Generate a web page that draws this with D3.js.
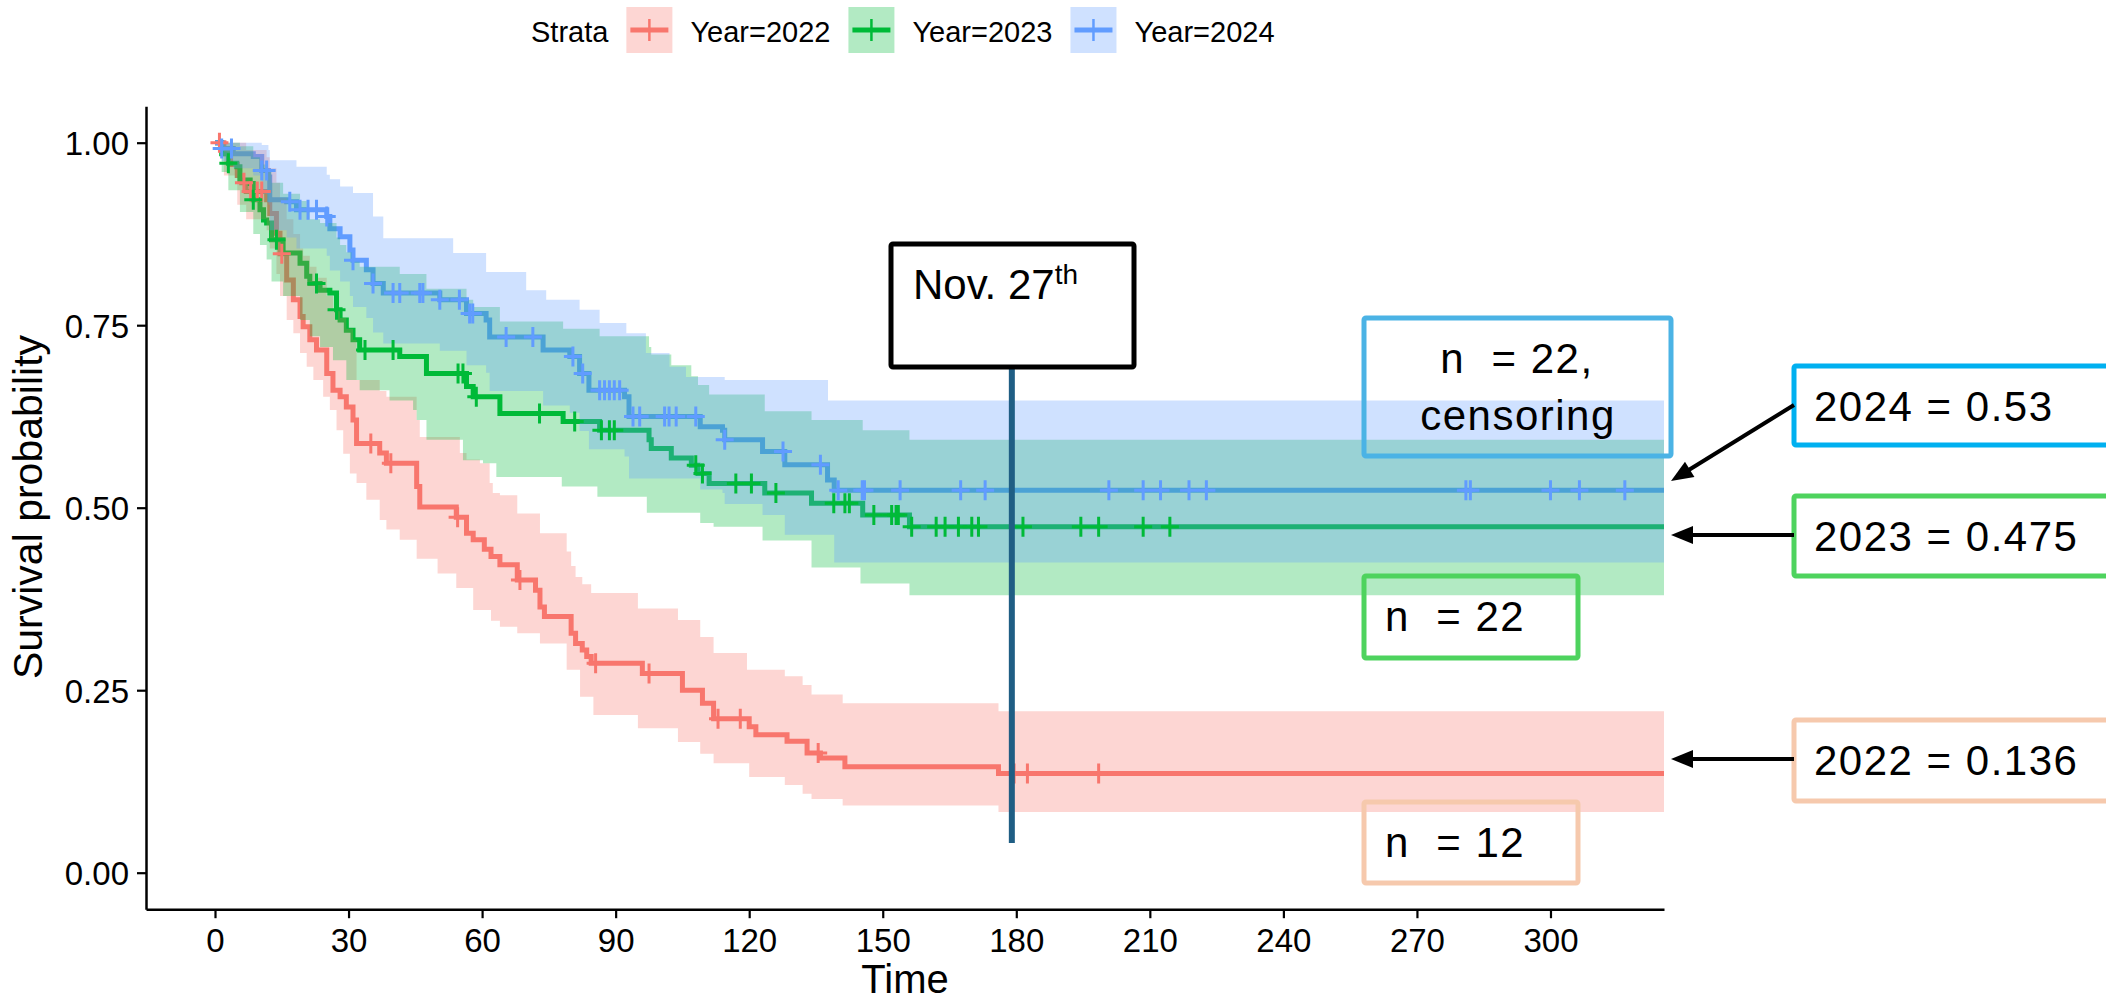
<!DOCTYPE html>
<html>
<head>
<meta charset="utf-8">
<script src="https://cdn.jsdelivr.net/npm/d3@7"></script>
<style>
  html, body { margin: 0; padding: 0; background: #fff; }
  svg { display: block; font-family: "Liberation Sans", Arial, sans-serif; }
</style>
</head>
<body>
<div id="chart"></div>
<script>
// ---- values ----
const strata = ["Year=2022", "Year=2023", "Year=2024"]
const lineColors = ["#F8766D", "#00BA38", "#619CFF"]
const xTicks = [0, 30, 60, 90, 120, 150, 180, 210, 240, 270, 300]
const yTicks = [0, 0.25, 0.5, 0.75, 1]
const followUpEnd = 325.5
const novDay = 179

// [time, survival] steps
const surv2022 = [[0,1],[2,0.985],[3.5,0.97],[5,0.955],[6,0.945],[7,0.933],[11.6,0.922],[12.3,0.903],[13.8,0.876],[14.6,0.848],[16.1,0.812],[17.6,0.785],[19.1,0.762],[19.8,0.748],[21.3,0.73],[22.8,0.716],[25.1,0.684],[26.5,0.661],[28.1,0.652],[29.5,0.638],[31,0.62],[31.8,0.588],[37,0.575],[38.5,0.561],[45.3,0.529],[46,0.501],[54.2,0.487],[56.5,0.465],[58,0.456],[60.5,0.443],[62,0.433],[64,0.422],[67.9,0.401],[72,0.387],[73,0.364],[74,0.351],[80,0.328],[81,0.314],[82.5,0.305],[83.5,0.296],[84.5,0.287],[96,0.273],[105,0.25],[109.5,0.232],[112,0.211],[120,0.2],[121.5,0.189],[128.5,0.18],[133,0.164],[136,0.157],[141.5,0.145],[176,0.136]]
const lower2022 = [[0,1],[2,0.955],[5,0.915],[7,0.895],[11.6,0.88],[12.3,0.855],[13.8,0.82],[14.6,0.79],[16.1,0.757],[17.6,0.739],[19.1,0.712],[20.6,0.693],[22.1,0.675],[24.3,0.652],[25.8,0.634],[27.3,0.606],[28.8,0.574],[30.3,0.547],[31.8,0.534],[34,0.511],[37,0.483],[38.5,0.47],[41.5,0.456],[45.3,0.43],[50,0.41],[54.2,0.39],[58,0.36],[62,0.345],[64,0.337],[67.9,0.328],[73,0.314],[79,0.278],[82,0.241],[85,0.216],[95,0.198],[104,0.179],[109,0.163],[112,0.15],[120,0.131],[128,0.12],[132,0.108],[134,0.101],[141,0.092],[176,0.083]]
const upper2022 = [[0,1],[7,0.99],[11.6,0.98],[12.3,0.965],[13.8,0.945],[14.6,0.925],[16.1,0.895],[17.6,0.875],[19.1,0.855],[19.8,0.845],[21.3,0.83],[22.8,0.815],[25.1,0.79],[26.5,0.77],[28.1,0.76],[29.5,0.745],[31,0.73],[31.8,0.675],[37,0.66],[38.5,0.652],[45.3,0.62],[46,0.597],[55,0.575],[56.5,0.566],[59.5,0.561],[61.7,0.534],[62.4,0.52],[64,0.517],[67.9,0.492],[73,0.465],[79,0.44],[80,0.42],[81,0.405],[82.5,0.395],[84.5,0.383],[95,0.362],[104,0.346],[109,0.323],[112,0.301],[119.5,0.278],[128,0.269],[132,0.257],[134,0.244],[141,0.232],[176,0.221]]
const censor2022 = [1, 6.5, 8, 9.5, 10.5, 15, 35, 39.5, 54.5, 68.5, 85.5, 97.5, 113, 118, 135.5, 179.5, 182.5, 198.5]

const surv2023 = [[0,1],[1.5,0.985],[3,0.972],[4.9,0.967],[5.6,0.949],[7.9,0.944],[8.6,0.922],[10.1,0.908],[10.9,0.894],[11.6,0.89],[12.7,0.867],[15.3,0.849],[19.1,0.835],[20.6,0.817],[21.3,0.807],[23.6,0.798],[25.8,0.794],[27.3,0.771],[28.1,0.757],[29.5,0.743],[31,0.73],[32.5,0.716],[41.5,0.707],[47.5,0.684],[56.5,0.666],[58,0.652],[64,0.629],[78.2,0.618],[86.4,0.606],[97.5,0.593],[98,0.581],[102.5,0.568],[107,0.558],[108.5,0.547],[111,0.533],[123.5,0.52],[134,0.506],[145.5,0.49],[156,0.474]]
const lower2023 = [[0,1],[1.5,0.96],[3,0.935],[5.6,0.905],[8.6,0.875],[10.1,0.86],[11.6,0.84],[12.7,0.81],[15.3,0.79],[19.1,0.757],[21.3,0.735],[23.6,0.72],[26.5,0.702],[29.5,0.675],[32.5,0.661],[39.2,0.647],[44.5,0.634],[45.3,0.62],[47.5,0.593],[55.7,0.565],[60.2,0.561],[63.2,0.542],[77.9,0.529],[85.9,0.515],[97,0.493],[109,0.479],[112,0.474],[123,0.455],[134,0.418],[145,0.396],[156,0.38]]
const upper2023 = [[0,1],[5.6,0.995],[8.6,0.98],[10.1,0.97],[11.6,0.96],[12.7,0.945],[15.3,0.93],[19.1,0.92],[20.6,0.905],[21.3,0.895],[23.6,0.89],[27.3,0.87],[28.1,0.86],[29.5,0.85],[31,0.84],[32.5,0.83],[41.5,0.82],[47.5,0.8],[56.5,0.785],[58,0.775],[64,0.755],[78.2,0.745],[86.4,0.735],[97.5,0.72],[98,0.71],[102.5,0.695],[107,0.68],[108.5,0.668],[111,0.655],[123.5,0.632],[134,0.62],[145.5,0.606],[156,0.593]]
const censor2023 = [3, 8.6, 13.8, 22.8, 27.3, 33.7, 40, 54.6, 55.7, 58.7, 72.9, 80.8, 86.8, 88.6, 89.7, 108, 109.5, 117, 120.5, 126, 139, 141.5, 142.5, 148, 152, 153, 153.5, 156.5, 162, 164, 167, 170, 171.5, 181.5, 194.5, 198.5, 208.5, 214.5]

const surv2024 = [[0,1],[1.5,0.992],[4.1,0.985],[8.6,0.981],[10.5,0.962],[12,0.953],[12.3,0.922],[16.1,0.919],[18.3,0.908],[25.1,0.899],[25.8,0.882],[28.1,0.871],[30.3,0.853],[31,0.839],[34,0.826],[35.5,0.807],[37.8,0.794],[50.5,0.785],[56.5,0.766],[60.9,0.757],[61.7,0.734],[73.7,0.716],[79.7,0.707],[81.9,0.684],[84,0.661],[92,0.652],[93,0.625],[109,0.611],[114,0.606],[114.5,0.593],[123,0.577],[128,0.559],[137.6,0.538],[139.1,0.524]]
const lower2024 = [[0,1],[1.5,0.975],[4.1,0.965],[8.6,0.955],[10.5,0.93],[12,0.915],[12.3,0.88],[16.1,0.87],[18.3,0.855],[25.1,0.845],[25.8,0.825],[28.1,0.81],[30.3,0.79],[31,0.775],[34,0.76],[35.5,0.74],[37.8,0.725],[50.5,0.715],[56.5,0.695],[60.9,0.685],[61.7,0.66],[73.7,0.64],[79.7,0.63],[81.9,0.605],[84,0.58],[92,0.57],[93,0.54],[109,0.525],[114,0.52],[114.5,0.505],[123,0.49],[128,0.463],[139.1,0.425]]
const upper2024 = [[0,1],[10.5,0.997],[12,0.99],[12.3,0.976],[18.3,0.967],[25.1,0.956],[25.8,0.95],[28.1,0.94],[31,0.931],[35.5,0.899],[37.8,0.869],[53.5,0.849],[60.9,0.823],[69.9,0.798],[74.4,0.785],[81.9,0.771],[86.4,0.753],[92.4,0.739],[96.8,0.712],[102.1,0.693],[105.8,0.679],[114.5,0.675],[137.7,0.647]]
const censor2024 = [1.5, 3.7, 10.5, 11.6, 16.8, 19.1, 20.9, 22.8, 25.1, 31, 35.5, 40, 41.5, 46, 46.7, 50.5, 54.9, 57.2, 57.9, 65.4, 71.4, 80.4, 82.6, 86.4, 87.5, 88.6, 89.7, 90.9, 93.9, 95.4, 101, 102, 103.6, 108, 114.5, 127.6, 136, 140, 145.4, 145.9, 153.9, 167.5, 173, 200.8, 208.5, 212.4, 218.8, 222.7, 281, 282, 300, 306.5, 316.7]

// ---- drawing ----
const W = 2106, H = 1005
const svg = d3.select("#chart").append("svg")
    .attr("width", W)
    .attr("height", H)

const x = d3.scaleLinear().domain([-15.5, 325.5]).range([146, 1664])
const y = d3.scaleLinear().domain([-0.05, 1.05]).range([909.2, 106.2])

const series = [
    { color: lineColors[0], surv: surv2022, low: lower2022, up: upper2022, cens: censor2022 },
    { color: lineColors[1], surv: surv2023, low: lower2023, up: upper2023, cens: censor2023 },
    { color: lineColors[2], surv: surv2024, low: lower2024, up: upper2024, cens: censor2024 }
]

// value of a step function at time t
function stepAt(arr, t) {
    let v = arr[0][1]
    for (const d of arr) {
        if (d[0] <= t) v = d[1]
        else break
    }
    return v
}

const line = d3.line()
    .x(d => x(d[0]))
    .y(d => y(d[1]))
    .curve(d3.curveStepAfter)

const area = d3.area()
    .x(d => x(d.t))
    .y0(d => y(d.lo))
    .y1(d => y(d.hi))
    .curve(d3.curveStepAfter)

const plot = svg.append("g")

// survival lines (ribbons go on top of them, like survminer does)
series.forEach(s => {
    const pts = s.surv.concat([[followUpEnd, s.surv[s.surv.length - 1][1]]])
    plot.append("path")
        .attr("d", line(pts))
        .attr("fill", "none")
        .attr("stroke", s.color)
        .attr("stroke-width", 5)
})

// confidence ribbons
series.forEach(s => {
    let times = Array.from(new Set(s.low.map(d => d[0]).concat(s.up.map(d => d[0])))).sort((a, b) => a - b)
    times.push(followUpEnd)
    const rib = times.map(t => ({ t: t, lo: stepAt(s.low, t), hi: stepAt(s.up, t) }))
    plot.append("path")
        .attr("d", area(rib))
        .attr("fill", s.color)
        .attr("fill-opacity", 0.3)
})

// censoring marks
series.forEach(s => {
    plot.selectAll(null)
        .data(s.cens)
        .enter().append("path")
        .attr("d", t => {
            const cx = x(t), cy = y(stepAt(s.surv, t))
            return `M${cx - 9},${cy}H${cx + 9}M${cx},${cy - 10}V${cy + 10}`
        })
        .attr("stroke", s.color)
        .attr("stroke-width", 3)
        .attr("fill", "none")
})

// axes
const xAxis = svg.append("g")
    .attr("transform", "translate(0," + y(-0.05) + ")")
    .call(d3.axisBottom(x).tickValues(xTicks).tickSize(9).tickSizeOuter(0).tickPadding(10))
const yAxis = svg.append("g")
    .attr("transform", "translate(" + x(-15.5) + ",0)")
    .call(d3.axisLeft(y).tickValues(yTicks).tickFormat(d3.format(".2f")).tickSize(9).tickSizeOuter(0).tickPadding(8))

for (const ax of [xAxis, yAxis]) {
    ax.attr("font-family", "'Liberation Sans', Arial, sans-serif").attr("font-size", 33)
    ax.select(".domain").attr("stroke", "#000").attr("stroke-width", 2.5)
    ax.selectAll(".tick line").attr("stroke", "#000").attr("stroke-width", 2.2)
    ax.selectAll(".tick text").attr("fill", "#000")
}
xAxis.selectAll(".tick text").attr("dy", "0.71em")
yAxis.selectAll(".tick text").attr("dy", "0.36em")

svg.append("text")
    .text("Time")
    .attr("x", 905)
    .attr("y", 993)
    .attr("text-anchor", "middle")
    .attr("font-size", 40)

svg.append("text")
    .text("Survival probability")
    .attr("transform", "translate(42,507) rotate(-90)")
    .attr("text-anchor", "middle")
    .attr("font-size", 41)

// legend
const legend = svg.append("g").attr("font-size", 29)
let lx = 531
const title = legend.append("text").text("Strata").attr("x", lx).attr("y", 42)
lx += title.node().getComputedTextLength() + 18
strata.forEach((name, i) => {
    legend.append("rect")
        .attr("x", lx).attr("y", 7).attr("width", 46).attr("height", 46)
        .attr("fill", lineColors[i]).attr("fill-opacity", 0.3)
    legend.append("path")
        .attr("d", `M${lx + 4},30H${lx + 42}`)
        .attr("stroke", lineColors[i]).attr("stroke-width", 5)
    legend.append("path")
        .attr("d", `M${lx + 23},19V41`)
        .attr("stroke", lineColors[i]).attr("stroke-width", 2.5)
    const lab = legend.append("text").text(name).attr("x", lx + 64).attr("y", 42)
    lx += 64 + lab.node().getComputedTextLength() + 18
})

// ---- annotations ----
const anno = svg.append("g")

anno.append("line")
    .attr("x1", x(novDay)).attr("x2", x(novDay))
    .attr("y1", 360).attr("y2", 843)
    .attr("stroke", "#1F5E84").attr("stroke-width", 6)

anno.append("rect")
    .attr("x", 891).attr("y", 244).attr("width", 243).attr("height", 123).attr("rx", 2)
    .attr("fill", "#fff").attr("stroke", "#000").attr("stroke-width", 5)
const nov = anno.append("text").attr("x", 913).attr("y", 299).attr("font-size", 42)
nov.append("tspan").text("Nov. 27")
nov.append("tspan").text("th").attr("font-size", 28).attr("dy", -15)

const boxText = { "font-size": 42, "letter-spacing": "1.5px" }
function box(x0, y0, w, h, stroke, fill) {
    anno.append("rect")
        .attr("x", x0).attr("y", y0).attr("width", w).attr("height", h).attr("rx", 2)
        .attr("fill", fill).attr("stroke", stroke).attr("stroke-width", 5)
}
function label(str, x0, y0, anchor) {
    anno.append("text")
        .text(str)
        .attr("x", x0).attr("y", y0)
        .attr("text-anchor", anchor || "start")
        .attr("font-size", boxText["font-size"])
        .attr("letter-spacing", boxText["letter-spacing"])
        .style("white-space", "pre")
}

box(1364, 318, 307, 138, "#4BB3E5", "none")
label("n  = 22,", 1517, 373, "middle")
label("censoring", 1518, 430, "middle")

box(1364, 576, 214, 82, "#4ED35E", "none")
label("n  = 22", 1385, 631)

box(1364, 802, 214, 81, "#F6C9AD", "none")
label("n  = 12", 1385, 857)

box(1794, 366, 360, 79, "#00B0F0", "#fff")
label("2024 = 0.53", 1814, 421)
box(1794, 496, 360, 80, "#4ED35E", "#fff")
label("2023 = 0.475", 1814, 551)
box(1794, 720, 360, 81, "#F6C9AD", "#fff")
label("2022 = 0.136", 1814, 775)

function arrow(x1, y1, x2, y2) {
    const len = Math.hypot(x2 - x1, y2 - y1)
    const ux = (x2 - x1) / len, uy = (y2 - y1) / len
    const hl = 22, hw = 9
    const bx = x2 - ux * hl, by = y2 - uy * hl
    anno.append("line")
        .attr("x1", x1).attr("y1", y1)
        .attr("x2", x2 - ux * (hl - 4)).attr("y2", y2 - uy * (hl - 4))
        .attr("stroke", "#000").attr("stroke-width", 4)
    anno.append("path")
        .attr("d", `M${x2},${y2}L${bx - uy * hw},${by + ux * hw}L${bx + uy * hw},${by - ux * hw}Z`)
        .attr("fill", "#000")
}
arrow(1794, 405, 1671, 481)
arrow(1794, 535, 1671, 535)
arrow(1794, 759, 1671, 759)
</script>
</body>
</html>
